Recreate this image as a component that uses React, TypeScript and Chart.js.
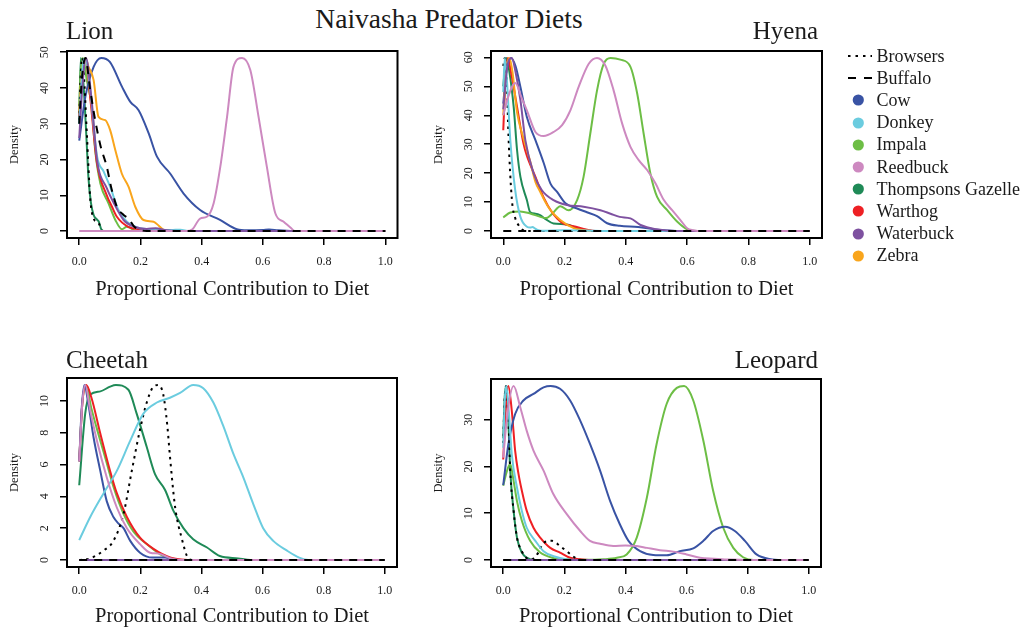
import React, { useEffect, useRef } from 'react';
import { Chart, registerables } from 'chart.js';

Chart.register(...registerables);

// ---------- data ----------
const SERIES_NAMES = ['Browsers', 'Buffalo', 'Cow', 'Donkey', 'Impala', 'Reedbuck', 'Thompsons Gazelle', 'Warthog', 'Waterbuck', 'Zebra'];
const SERIES_COLORS = ['#000000', '#000000', '#3953A4', '#6BCCDF', '#6DBE45', '#CD89C0', '#1F8A57', '#EE2024', '#7E51A0', '#F9A51C'];
const SERIES_ORDER = [4, 0, 6, 3, 8, 1, 9, 7, 2, 5];
const X_TICKS = [0, 0.2, 0.4, 0.6, 0.8, 1.0];

const LION_Y_TICKS = [0, 10, 20, 30, 40, 50];
const HYENA_Y_TICKS = [0, 10, 20, 30, 40, 50, 60];
const CHEETAH_Y_TICKS = [0, 2, 4, 6, 8, 10];
const LEOPARD_Y_TICKS = [0, 10, 20, 30];

const LION_MAX = 48.4;
const HYENA_MAX = 59.8;
const CHEETAH_MAX = 11.0;
const LEOPARD_MAX = 37.2;

const FLAT = [[0, 0], [1, 0]];

// Lion
const lionBrowsers = [[0, 31], [0.005, 44], [0.01, 48.4], [0.015, 44], [0.025, 27], [0.036, 9], [0.047, 3.5], [0.058, 2.6], [0.065, 2], [0.072, 0.3], [0.08, 0], [1, 0]];
const lionBuffalo = [[0, 30], [0.008, 42], [0.02, 48.4], [0.035, 40], [0.05, 32], [0.069, 24], [0.09, 18], [0.105, 12], [0.123, 6.8], [0.145, 4.5], [0.161, 3.5], [0.18, 1.2], [0.2, 0.3], [0.22, 0], [1, 0]];
const lionCow = [[0, 25.3], [0.02, 37.5], [0.047, 45.9], [0.072, 48.4], [0.1, 47.3], [0.14, 40.3], [0.167, 36.1], [0.194, 33.8], [0.227, 27.3], [0.254, 20.8], [0.297, 16.1], [0.341, 10.5], [0.395, 5.9], [0.46, 3.1], [0.515, 0.5], [0.55, 0.2], [0.6, 0.3], [0.62, 0.45], [0.65, 0.2], [0.7, 0], [1, 0]];
const lionDonkey = [[0, 30], [0.01, 45], [0.02, 48.4], [0.035, 40], [0.058, 21], [0.08, 16.6], [0.101, 12.4], [0.128, 5.9], [0.156, 2.6], [0.19, 1], [0.25, 0.4], [0.3, 0.3], [0.33, 0.4], [0.36, 0], [1, 0]];
const lionImpala = [[0, 35], [0.005, 45], [0.012, 48.4], [0.025, 42], [0.041, 34.7], [0.052, 22.6], [0.069, 13.3], [0.096, 7.7], [0.118, 3.1], [0.14, 0.5], [0.155, 1.2], [0.165, 1.0], [0.18, 0.2], [0.2, 0], [1, 0]];
const lionReedbuck = [[0, 0], [0.35, 0], [0.37, 0.5], [0.395, 3.5], [0.417, 4.0], [0.439, 7.7], [0.461, 18], [0.483, 31.9], [0.504, 45.9], [0.532, 48.4], [0.559, 45], [0.586, 31.9], [0.613, 18], [0.641, 4.9], [0.668, 2.6], [0.69, 1], [0.705, 0], [1, 0]];
const lionThompsons = [[0, 30], [0.005, 48.4], [0.014, 41], [0.023, 27], [0.03, 15], [0.038, 8], [0.047, 4.5], [0.058, 3.2], [0.064, 2.6], [0.072, 0.5], [0.08, 0], [1, 0]];
const lionWarthog = [[0, 32], [0.01, 44], [0.02, 48.4], [0.035, 38], [0.058, 19], [0.09, 10], [0.107, 6.8], [0.123, 4], [0.16, 1.2], [0.2, 0.5], [0.25, 0.2], [0.3, 0], [1, 0]];
const lionWaterbuck = [[0, 26], [0.01, 40], [0.022, 48.4], [0.04, 37], [0.058, 20], [0.09, 12], [0.112, 8], [0.145, 3.1], [0.18, 1.2], [0.22, 0.6], [0.25, 0.8], [0.28, 0.3], [0.32, 0], [1, 0]];
const lionZebra = [[0, 33], [0.008, 44], [0.02, 48.4], [0.03, 46], [0.047, 42.2], [0.063, 31.9], [0.085, 31], [0.101, 28.2], [0.118, 22.6], [0.139, 16.1], [0.161, 12.4], [0.183, 6.8], [0.21, 3.1], [0.243, 2.6], [0.26, 1.5], [0.276, 0.3], [0.3, 0], [1, 0]];

// Hyena
const hyenaBrowsers = [[0, 57], [0.005, 59.8], [0.012, 50], [0.017, 33], [0.028, 11], [0.039, 4.5], [0.05, 2], [0.065, 0.3], [0.08, 0], [1, 0]];
const hyenaBuffalo = FLAT;
const hyenaCow = [[0, 44], [0.01, 55], [0.025, 59.8], [0.04, 57], [0.056, 49.8], [0.077, 39.4], [0.105, 31.4], [0.132, 23.5], [0.154, 16.4], [0.175, 13.6], [0.203, 9.6], [0.241, 7.8], [0.273, 6.5], [0.306, 5.2], [0.339, 2.7], [0.38, 1.8], [0.44, 1.4], [0.5, 0.5], [0.55, 0.1], [0.58, 0], [1, 0]];
const hyenaDonkey = [[0, 48], [0.005, 59.8], [0.012, 52], [0.023, 31.4], [0.039, 14.1], [0.056, 4.9], [0.077, 1.5], [0.088, 1.2], [0.095, 1.4], [0.105, 0.8], [0.115, 0.3], [0.13, 0.1], [0.2, 0.3], [0.3, 0.1], [0.35, 0], [1, 0]];
const hyenaImpala = [[0, 4.7], [0.023, 6.4], [0.055, 6.8], [0.088, 6.1], [0.121, 4.9], [0.14, 4.5], [0.16, 6], [0.186, 8.6], [0.213, 7.2], [0.241, 10.7], [0.262, 18.7], [0.284, 33.7], [0.306, 48.6], [0.328, 57.8], [0.35, 59.8], [0.382, 59.2], [0.415, 56.7], [0.437, 47.5], [0.458, 33.7], [0.48, 19.9], [0.502, 11.8], [0.535, 7.2], [0.568, 3.2], [0.6, 0.6], [0.63, 0], [1, 0]];
const hyenaReedbuck = [[0, 40], [0.015, 46], [0.039, 51.1], [0.06, 46], [0.077, 41.7], [0.105, 34.2], [0.132, 32.8], [0.164, 34.2], [0.192, 36.6], [0.219, 41.7], [0.246, 49.8], [0.279, 57.8], [0.306, 59.8], [0.333, 57.2], [0.36, 48.6], [0.388, 37.1], [0.415, 29.1], [0.442, 24.5], [0.47, 21], [0.497, 16.4], [0.524, 10.7], [0.551, 7.2], [0.578, 3.8], [0.6, 1], [0.62, 0.3], [0.65, 0], [1, 0]];
const hyenaThompsons = [[0, 50], [0.01, 59.8], [0.02, 55], [0.034, 42.9], [0.045, 28], [0.056, 18.7], [0.077, 10.7], [0.088, 6.5], [0.105, 6], [0.12, 5.5], [0.137, 4.2], [0.164, 2.6], [0.207, 2.3], [0.24, 1.1], [0.27, 0.4], [0.3, 0], [1, 0]];
const hyenaWarthog = [[0, 34.8], [0.007, 52], [0.015, 59.8], [0.025, 55], [0.045, 42.9], [0.066, 30.2], [0.077, 26], [0.105, 18.7], [0.132, 11.5], [0.159, 6.5], [0.19, 3], [0.24, 1.4], [0.28, 0.3], [0.3, 0], [1, 0]];
const hyenaWaterbuck = [[0, 42], [0.012, 56], [0.028, 59.8], [0.04, 55], [0.056, 45.2], [0.072, 31.4], [0.099, 19.9], [0.126, 14.1], [0.164, 10.7], [0.208, 9], [0.262, 8.4], [0.317, 7.2], [0.35, 6], [0.38, 4.9], [0.415, 4.4], [0.448, 2.1], [0.5, 0.6], [0.56, 0], [1, 0]];
const hyenaZebra = [[0, 40], [0.008, 54], [0.02, 59.8], [0.03, 55], [0.045, 41], [0.066, 32], [0.088, 24], [0.105, 17], [0.121, 13.5], [0.137, 10.1], [0.154, 7.2], [0.186, 3.8], [0.23, 1], [0.28, 0.1], [0.3, 0], [1, 0]];

// Cheetah
const cheetahBrowsers = [[0, 0], [0.036, 0.1], [0.08, 0.6], [0.112, 1.2], [0.145, 2.9], [0.172, 5.6], [0.199, 8.2], [0.221, 9.9], [0.243, 10.9], [0.259, 11.0], [0.275, 10.4], [0.288, 8.5], [0.297, 6.5], [0.314, 3.3], [0.335, 1.4], [0.357, 0.1], [0.37, 0], [1, 0]];
const cheetahBuffalo = FLAT;
const cheetahCow = [[0, 6.2], [0.008, 9.5], [0.017, 11.0], [0.03, 9.8], [0.047, 7.7], [0.069, 5.6], [0.09, 3.7], [0.112, 2.7], [0.128, 2.3], [0.145, 2.0], [0.167, 1.2], [0.199, 0.46], [0.24, 0.15], [0.28, 0.15], [0.32, 0], [1, 0]];
const cheetahDonkey = [[0, 1.25], [0.036, 2.7], [0.08, 4.2], [0.123, 5.6], [0.167, 7.5], [0.21, 9.2], [0.254, 9.9], [0.297, 10.2], [0.33, 10.5], [0.373, 11.0], [0.406, 10.8], [0.439, 9.9], [0.472, 8.4], [0.504, 6.7], [0.537, 5.2], [0.57, 3.5], [0.602, 2.0], [0.635, 1.2], [0.679, 0.6], [0.72, 0.15], [0.75, 0], [1, 0]];
const cheetahImpala = [[0, 6.2], [0.01, 9.8], [0.022, 11.0], [0.04, 9.5], [0.069, 7.5], [0.09, 6.1], [0.112, 4.6], [0.145, 2.9], [0.177, 1.8], [0.221, 1.0], [0.265, 0.36], [0.3, 0.1], [0.34, 0], [1, 0]];
const cheetahReedbuck = [[0, 6.2], [0.01, 9.8], [0.02, 11.0], [0.035, 9.5], [0.058, 7.5], [0.09, 5.2], [0.123, 3.3], [0.156, 2.0], [0.199, 1.0], [0.232, 0.46], [0.26, 0.4], [0.3, 0.1], [0.34, 0], [1, 0]];
const cheetahThompsons = [[0, 4.7], [0.0196, 9.2], [0.036, 10.4], [0.069, 10.6], [0.101, 10.9], [0.12, 11.0], [0.161, 10.7], [0.188, 9.2], [0.221, 7.1], [0.248, 5.4], [0.281, 4.4], [0.308, 3.1], [0.341, 2.0], [0.373, 1.3], [0.417, 0.8], [0.46, 0.25], [0.52, 0.1], [0.56, 0], [1, 0]];
const cheetahWarthog = [[0, 6.2], [0.01, 9.8], [0.023, 11.0], [0.04, 10.2], [0.069, 7.95], [0.101, 5.6], [0.123, 4.2], [0.156, 2.7], [0.199, 1.4], [0.243, 0.7], [0.3, 0.15], [0.38, 0], [1, 0]];
const cheetahWaterbuck = FLAT;
const cheetahZebra = FLAT;

// Leopard
const leopardBrowsers = [[0, 25], [0.005, 35], [0.01, 37.2], [0.017, 30], [0.023, 19], [0.034, 10.5], [0.045, 4.8], [0.06, 2], [0.075, 0.5], [0.09, 0.1], [0.1, 0.4], [0.115, 1.6], [0.132, 3.7], [0.159, 4.1], [0.186, 3.0], [0.213, 1.6], [0.24, 0.3], [0.26, 0], [1, 0]];
const leopardBuffalo = FLAT;
const leopardCow = [[0, 16], [0.017, 24.8], [0.039, 31.2], [0.066, 34.1], [0.099, 35.5], [0.132, 36.9], [0.155, 37.2], [0.186, 36.6], [0.219, 34.1], [0.252, 29.8], [0.284, 24.8], [0.317, 19.1], [0.35, 12.6], [0.382, 7.6], [0.41, 4.1], [0.448, 1.9], [0.491, 1.07], [0.535, 1.0], [0.578, 1.9], [0.622, 2.5], [0.655, 4.1], [0.687, 6.2], [0.726, 7.1], [0.758, 6.2], [0.791, 4.1], [0.829, 1.2], [0.88, 0.1], [0.9, 0], [1, 0]];
const leopardDonkey = [[0, 24], [0.005, 34], [0.01, 37.2], [0.018, 32], [0.028, 22.6], [0.045, 15.5], [0.061, 10.5], [0.077, 6.9], [0.105, 4.1], [0.132, 1.9], [0.165, 0.8], [0.21, 0.1], [0.24, 0], [1, 0]];
const leopardImpala = [[0, 15.9], [0.012, 19], [0.023, 20.5], [0.034, 16.9], [0.045, 12.6], [0.061, 8.4], [0.088, 4.1], [0.121, 1.6], [0.16, 0.5], [0.22, 0.1], [0.3, 0.05], [0.328, 0.15], [0.372, 0.5], [0.404, 1.2], [0.437, 4.8], [0.47, 13.3], [0.502, 24.8], [0.535, 33.4], [0.568, 36.8], [0.592, 37.2], [0.622, 34.1], [0.655, 25.5], [0.687, 14.8], [0.72, 6.9], [0.753, 2.6], [0.785, 0.6], [0.82, 0], [1, 0]];
const leopardReedbuck = [[0, 21.9], [0.015, 32], [0.034, 37.2], [0.056, 32.6], [0.077, 27.6], [0.099, 23.4], [0.132, 19.1], [0.164, 14.1], [0.208, 9.8], [0.252, 6.2], [0.284, 4.1], [0.317, 3.5], [0.36, 3.0], [0.4, 3.1], [0.437, 3.0], [0.47, 2.6], [0.513, 2.1], [0.557, 1.8], [0.6, 1.2], [0.644, 0.5], [0.69, 0.3], [0.74, 0.1], [0.8, 0], [1, 0]];
const leopardThompsons = [[0, 26], [0.005, 35], [0.01, 37.2], [0.016, 31], [0.023, 19.1], [0.034, 10.5], [0.045, 4.8], [0.061, 1.6], [0.08, 0.4], [0.1, 0], [1, 0]];
const leopardWarthog = [[0, 21.5], [0.008, 32], [0.017, 37.2], [0.028, 31.9], [0.039, 23.4], [0.05, 18.4], [0.061, 14.8], [0.077, 10.5], [0.099, 6.9], [0.121, 4.8], [0.154, 2.6], [0.186, 1.6], [0.219, 0.5], [0.25, 0.15], [0.28, 0], [1, 0]];
const leopardWaterbuck = FLAT;
const leopardZebra = FLAT;

// ---------- layout / styling ----------
const SERIF = '"Liberation Serif", "Times New Roman", serif';
const TEXT = '#1a1a1a';

const PANELS = [
  {
    key: 'lion', title: 'Lion', titleAlign: 'left', titleX: 66, titleBaseline: 39.3,
    left: 0, top: 0, width: 420, height: 316,
    area: { left: 67, top: 51, right: 397.5, bottom: 238 },
    yMaxVal: LION_MAX, yTicks: LION_Y_TICKS, xTitlePad: 13.7, yTitlePad: 7.5,
    series: [lionBrowsers, lionBuffalo, lionCow, lionDonkey, lionImpala, lionReedbuck, lionThompsons, lionWarthog, lionWaterbuck, lionZebra],
  },
  {
    key: 'hyena', title: 'Hyena', titleAlign: 'right', titleX: 818, titleBaseline: 39.3,
    left: 420, top: 0, width: 420, height: 316,
    area: { left: 71, top: 51, right: 402, bottom: 238 },
    yMaxVal: HYENA_MAX, yTicks: HYENA_Y_TICKS, xTitlePad: 13.7, yTitlePad: 11,
    series: [hyenaBrowsers, hyenaBuffalo, hyenaCow, hyenaDonkey, hyenaImpala, hyenaReedbuck, hyenaThompsons, hyenaWarthog, hyenaWaterbuck, hyenaZebra],
  },
  {
    key: 'cheetah', title: 'Cheetah', titleAlign: 'left', titleX: 66, titleBaseline: 368.3,
    left: 0, top: 316, width: 420, height: 317,
    area: { left: 67, top: 62, right: 397, bottom: 251 },
    yMaxVal: CHEETAH_MAX, yTicks: CHEETAH_Y_TICKS, xTitlePad: 3.7, yTitlePad: 7.5,
    series: [cheetahBrowsers, cheetahBuffalo, cheetahCow, cheetahDonkey, cheetahImpala, cheetahReedbuck, cheetahThompsons, cheetahWarthog, cheetahWaterbuck, cheetahZebra],
  },
  {
    key: 'leopard', title: 'Leopard', titleAlign: 'right', titleX: 818, titleBaseline: 368.3,
    left: 420, top: 316, width: 420, height: 317,
    area: { left: 71, top: 63, right: 401, bottom: 251 },
    yMaxVal: LEOPARD_MAX, yTicks: LEOPARD_Y_TICKS, xTitlePad: 3.7, yTitlePad: 11,
    series: [leopardBrowsers, leopardBuffalo, leopardCow, leopardDonkey, leopardImpala, leopardReedbuck, leopardThompsons, leopardWarthog, leopardWaterbuck, leopardZebra],
  },
];

const DASHES: number[][] = [[2.5, 4.5], [8, 7], [], [], [], [], [], [], [], []];

const boxPlugin = {
  id: 'rbox',
  afterDraw(chart: any) {
    const { ctx, chartArea: a } = chart;
    ctx.save();
    ctx.strokeStyle = '#000';
    ctx.lineWidth = 2;
    ctx.strokeRect(a.left, a.top, a.right - a.left, a.bottom - a.top);
    const ys = chart.scales.y;
    ctx.fillStyle = TEXT;
    ctx.font = `12px ${SERIF}`;
    ctx.textAlign = 'center';
    ctx.textBaseline = 'middle';
    ys.ticks.forEach((t: any) => {
      const py = ys.getPixelForValue(t.value);
      ctx.save();
      ctx.translate(a.left - 22.5, py);
      ctx.rotate(-Math.PI / 2);
      ctx.fillText(String(t.value), 0, 0);
      ctx.restore();
    });
    ctx.restore();
  },
};

function Panel({ cfg }: { cfg: any }) {
  const ref = useRef<HTMLCanvasElement>(null);
  useEffect(() => {
    const a = cfg.area;
    const M = cfg.yMaxVal;
    const grid = { display: true, drawOnChartArea: false, drawTicks: true, tickLength: 7, color: '#000', lineWidth: 1.5 };
    const chart = new Chart(ref.current as HTMLCanvasElement, {
      type: 'line',
      data: {
        datasets: SERIES_NAMES.map((name, i) => ({
          label: name,
          data: cfg.series[i].map((p: number[]) => ({ x: p[0], y: p[1] })),
          borderColor: SERIES_COLORS[i],
          borderWidth: 2,
          borderDash: DASHES[i],
          pointRadius: 0,
          fill: false,
          tension: 0.4,
          cubicInterpolationMode: 'monotone',
          order: SERIES_ORDER[i],
        })),
      },
      options: {
        responsive: false,
        animation: false,
        devicePixelRatio: 1,
        events: [],
        layout: { padding: { left: 0, top: a.top, right: cfg.width - a.right, bottom: 0 } },
        plugins: { legend: { display: false }, tooltip: { enabled: false }, title: { display: false } },
        scales: {
          x: {
            type: 'linear',
            min: -0.04,
            max: 1.04,
            afterBuildTicks: (s: any) => { s.ticks = X_TICKS.map((v) => ({ value: v })); },
            afterFit: (s: any) => { s.height = cfg.height - a.bottom; },
            grid,
            border: { display: false },
            ticks: {
              font: { family: SERIF, size: 12 },
              color: TEXT,
              padding: 9.5,
              maxRotation: 0,
              autoSkip: false,
              callback: (v: any) => Number(v).toFixed(1),
            },
            title: {
              display: true,
              text: 'Proportional Contribution to Diet',
              font: { family: SERIF, size: 20.5 },
              color: TEXT,
              padding: { top: 0, bottom: cfg.xTitlePad },
            },
          },
          y: {
            type: 'linear',
            min: -0.04 * M,
            max: 1.04 * M,
            afterBuildTicks: (s: any) => { s.ticks = cfg.yTicks.map((v: number) => ({ value: v })); },
            afterFit: (s: any) => { s.width = a.left; },
            grid,
            border: { display: false },
            ticks: { display: false },
            title: {
              display: true,
              text: 'Density',
              font: { family: SERIF, size: 12.5 },
              color: TEXT,
              padding: { top: cfg.yTitlePad, bottom: 0 },
            },
          },
        },
      } as any,
      plugins: [boxPlugin],
    });
    return () => chart.destroy();
  }, []);
  return (
    <canvas
      ref={ref}
      width={cfg.width}
      height={cfg.height}
      style={{ position: 'absolute', left: cfg.left, top: cfg.top, width: cfg.width, height: cfg.height }}
    />
  );
}

function Legend() {
  return (
    <>
      {SERIES_NAMES.map((name, i) => {
        const yc = 56 + i * 22.2;
        return (
          <React.Fragment key={name}>
            <svg style={{ position: 'absolute', left: 844, top: yc - 8 }} width={30} height={16}>
              {i < 2 ? (
                <line x1={4} y1={8} x2={28} y2={8} stroke="#000" strokeWidth={2} strokeDasharray={i === 0 ? '2.5 5' : '8 8'} />
              ) : (
                <circle cx={14.3} cy={8} r={5.6} fill={SERIES_COLORS[i]} />
              )}
            </svg>
            <div
              style={{
                position: 'absolute',
                left: 876.5,
                top: yc - 9.4,
                fontFamily: SERIF,
                fontSize: 18,
                lineHeight: '18px',
                color: TEXT,
                whiteSpace: 'nowrap',
              }}
            >
              {name}
            </div>
          </React.Fragment>
        );
      })}
    </>
  );
}

export default function App() {
  return (
    <div style={{ position: 'fixed', left: 0, top: 0, width: 1027, height: 633, background: '#fff', overflow: 'hidden' }}>
      <div
        style={{
          position: 'absolute', left: 449, top: 28.3 - 0.8375 * 27.5, transform: 'translateX(-50%)',
          fontFamily: SERIF, fontSize: 27.5, lineHeight: '27.5px', color: TEXT, whiteSpace: 'nowrap',
        }}
      >
        Naivasha Predator Diets
      </div>
      {PANELS.map((p) => (
        <React.Fragment key={p.key}>
          <Panel cfg={p} />
          <div
            style={{
              position: 'absolute', left: p.titleX, top: p.titleBaseline - 0.8375 * 25,
              transform: p.titleAlign === 'right' ? 'translateX(-100%)' : undefined,
              fontFamily: SERIF, fontSize: 25, lineHeight: '25px', color: TEXT, whiteSpace: 'nowrap',
            }}
          >
            {p.title}
          </div>
        </React.Fragment>
      ))}
      <Legend />
    </div>
  );
}
